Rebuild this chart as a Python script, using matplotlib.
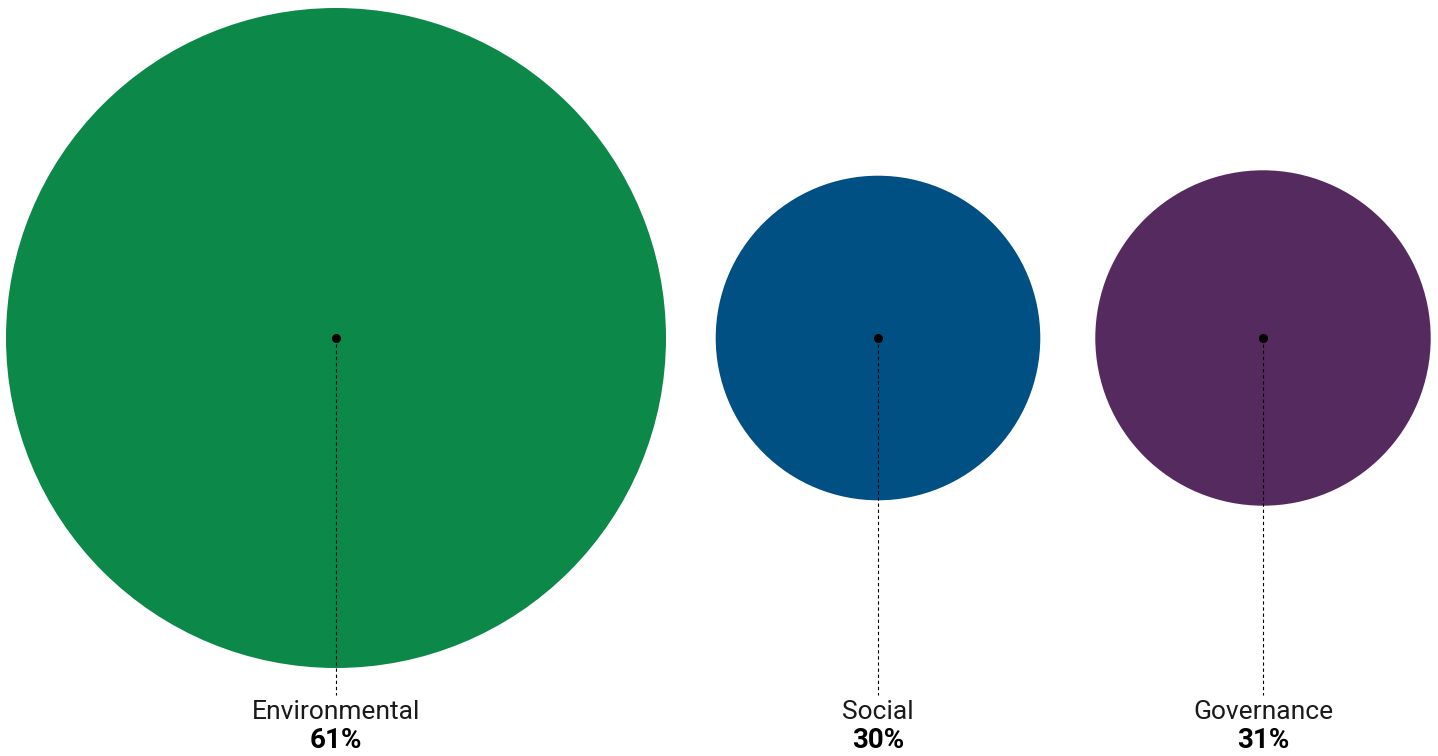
import numpy as np
import matplotlib.pyplot as plt
from matplotlib.patches import Circle

categories = ['Environmental', 'Social', 'Governance']
shares = [61, 30, 31]
colors = ['#0c8849', '#005083', '#552a5e']

W, H = 1438, 756
fig = plt.figure(figsize=(W / 100, H / 100), dpi=100)
ax = fig.add_axes([0, 0, 1, 1])
ax.set_xlim(0, W)
ax.set_ylim(H, 0)
ax.set_aspect('equal')
ax.axis('off')

# radius scales linearly with the share
scale = 330 / 61.
centers_x = [336, 878, 1263]
cy = 338
line_end = 695

for name, v, c, cx in zip(categories, shares, colors, centers_x):
    r = v * scale
    ax.add_patch(Circle((cx, cy), r, color=c, lw=0))
    ax.plot([cx, cx], [cy, line_end], color='black', lw=0.8,
            dashes=(3, 2.5), zorder=3)
    ax.plot(cx, cy, 'o', color='black', ms=5.5, zorder=4)
    ax.text(cx, 712, name, ha='center', va='center', fontsize=19,
            family='Roboto', fontweight='normal', color='#1a1a1a')
    ax.text(cx, 741, f'{v}%', ha='center', va='center', fontsize=20,
            family='Roboto', fontweight='bold', color='black')

fig.savefig('out.png', dpi=100)
